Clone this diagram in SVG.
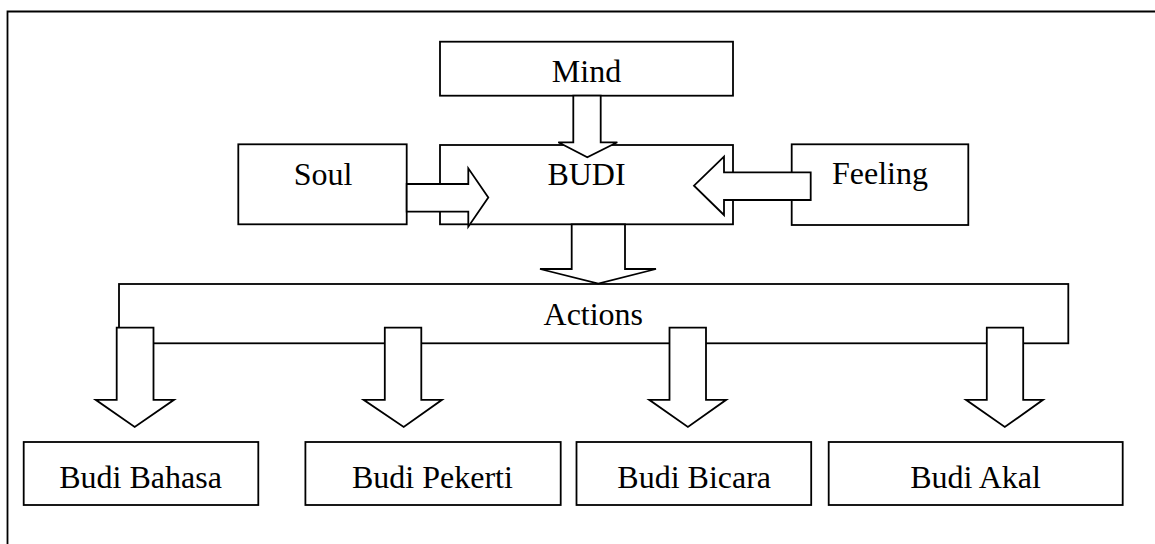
<svg xmlns="http://www.w3.org/2000/svg" width="1155" height="544" viewBox="0 0 1155 544">
<style>
.box{fill:#fff;stroke:#000;stroke-width:1.8}
.arr{fill:#fff;stroke:#000;stroke-width:1.8;stroke-linejoin:miter}
.frame{fill:none;stroke:#000;stroke-width:1.8}
text{font-family:"Liberation Serif","Times New Roman",serif;font-size:32px;fill:#000;text-anchor:middle}
</style>
<rect width="1155" height="544" fill="#fff"/>
<path class="frame" d="M7.5,544 V11.5 H1155"/>
<g id="mind"><rect class="box" x="440" y="41.7" width="293" height="54"/><text x="586.5" y="81.7">Mind</text></g>
<g id="budi"><rect class="box" x="440" y="145" width="293" height="79.3"/><text x="586.5" y="185">BUDI</text></g>
<g id="soul"><rect class="box" x="238.3" y="144.3" width="168.4" height="80"/><text x="323" y="185">Soul</text></g>
<g id="feeling"><rect class="box" x="791.7" y="144.3" width="176.6" height="80.7"/><text x="880" y="184">Feeling</text></g>
<g id="actions"><rect class="box" x="119" y="284" width="949.3" height="59.3"/><text x="593.3" y="325">Actions</text></g>
<g id="budi-bahasa"><rect class="box" x="23.7" y="442" width="234.6" height="63"/><text x="140.6" y="488.3">Budi Bahasa</text></g>
<g id="budi-pekerti"><rect class="box" x="305.4" y="442" width="255.3" height="63"/><text x="432.4" y="488.3">Budi Pekerti</text></g>
<g id="budi-bicara"><rect class="box" x="576.5" y="442" width="234.7" height="63"/><text x="694.2" y="488.3">Budi Bicara</text></g>
<g id="budi-akal"><rect class="box" x="828.7" y="442" width="294" height="63"/><text x="975.6" y="488.3">Budi Akal</text></g>
<g id="connectors">
<path class="arr" d="M573.3,95.7 H600.7 V142.3 H617.3 L587.3,157.3 L558.3,142.3 H573.3 Z"/>
<path class="arr" d="M406.7,184 H468.3 V168.3 L488.3,197.5 L468.3,226.7 V211.7 H406.7 Z"/>
<path class="arr" d="M810.7,172.3 H724 V156.7 L694,185.7 L724,215 V200 H810.7 Z"/>
<path class="arr" d="M571.7,224.3 H625 V269 H656 L598.3,283.5 L540,269 H571.7 Z"/>
<path class="arr" d="M116.7,327.7 H153.5 V399.8 H174 L134.7,427 L95.7,399.8 H116.7 Z"/>
<path class="arr" d="M384.8,327.7 H421.3 V399.8 H442 L403.7,427 L363.6,399.8 H384.8 Z"/>
<path class="arr" d="M669.5,327.7 H706 V399.8 H726.2 L687.9,427 L649.2,399.8 H669.5 Z"/>
<path class="arr" d="M986.8,327.7 H1023.2 V399.8 H1043 L1004.8,427 L966,399.8 H986.8 Z"/>
</g>
</svg>
